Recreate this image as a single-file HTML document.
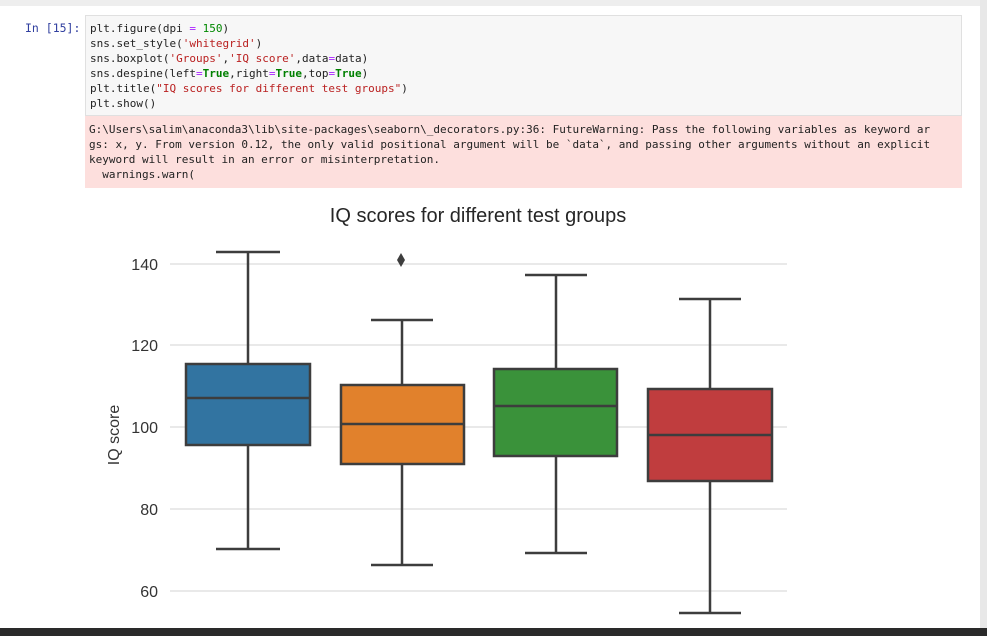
<!DOCTYPE html>
<html><head><style>
body{margin:0;width:987px;height:636px;background:#fff;overflow:hidden;position:relative;font-family:"DejaVu Sans Mono","Liberation Mono",monospace}
.top{position:absolute;left:0;top:0;width:980px;height:6px;background:#eee}
.prompt{position:absolute;left:25px;top:21px;font-size:11.5px;color:#303f9f}
.code{position:absolute;left:85px;top:15px;width:877px;height:101px;background:#f7f7f7;border:1px solid #e0e0e0;box-sizing:border-box}
.code pre,.err pre{margin:0;font-family:inherit;font-size:11px;line-height:15px}
.code pre{padding:5px 0 0 4px;color:#222}
.err{position:absolute;left:85px;top:116px;width:877px;height:72px;background:#fddfdd}
.err pre{padding:6px 0 0 4px;line-height:15px;font-size:11px;color:#222}
.s{color:#ba2121}.k{color:#008000;font-weight:bold}.o{color:#aa22ff}.n{color:#080}
.sb{position:absolute;left:980px;top:0;width:7px;height:628px;background:#e8e8e8}
.bot{position:absolute;left:0;top:628px;width:987px;height:8px;background:#2a2a2a}
</style></head><body>
<div class="top"></div>
<div class="prompt">In [15]:</div>
<div class="code"><pre>plt.figure(dpi <span class="o">=</span> <span class="n">150</span>)
sns.set_style(<span class="s">'whitegrid'</span>)
sns.boxplot(<span class="s">'Groups'</span>,<span class="s">'IQ score'</span>,data<span class="o">=</span>data)
sns.despine(left<span class="o">=</span><span class="k">True</span>,right<span class="o">=</span><span class="k">True</span>,top<span class="o">=</span><span class="k">True</span>)
plt.title(<span class="s">"IQ scores for different test groups"</span>)
plt.show()</pre></div>
<div class="err"><pre>G:\Users\salim\anaconda3\lib\site-packages\seaborn\_decorators.py:36: FutureWarning: Pass the following variables as keyword ar
gs: x, y. From version 0.12, the only valid positional argument will be `data`, and passing other arguments without an explicit
keyword will result in an error or misinterpretation.
  warnings.warn(</pre></div>
<svg style="position:absolute;left:0;top:0" width="987" height="636" font-family="Liberation Sans, sans-serif">
<text x="478" y="222" font-size="20" text-anchor="middle" fill="#262626">IQ scores for different test groups</text>
<g stroke="#dcdcdc" stroke-width="1.3">
<line x1="170" x2="787" y1="264" y2="264"/><line x1="170" x2="787" y1="345" y2="345"/><line x1="170" x2="787" y1="427" y2="427"/><line x1="170" x2="787" y1="509" y2="509"/><line x1="170" x2="787" y1="591" y2="591"/></g>
<g font-size="16" fill="#333" text-anchor="end">
<text x="158" y="270">140</text><text x="158" y="351">120</text><text x="158" y="433">100</text><text x="158" y="515">80</text><text x="158" y="597">60</text></g>
<text transform="translate(119,435) rotate(-90)" font-size="16" fill="#333" text-anchor="middle">IQ score</text>
<g stroke="#3d3d3d" stroke-width="2.5">
<line x1="248" x2="248" y1="252" y2="549"/><line x1="216" x2="280" y1="252" y2="252"/><line x1="216" x2="280" y1="549" y2="549"/>
<rect x="186" y="364" width="124" height="81" fill="#3274a1"/><line x1="186" x2="310" y1="398" y2="398"/>
<line x1="402" x2="402" y1="320" y2="565"/><line x1="371" x2="433" y1="320" y2="320"/><line x1="371" x2="433" y1="565" y2="565"/>
<rect x="341" y="385" width="123" height="79" fill="#e1812c"/><line x1="341" x2="464" y1="424" y2="424"/>
<line x1="556" x2="556" y1="275" y2="553"/><line x1="525" x2="587" y1="275" y2="275"/><line x1="525" x2="587" y1="553" y2="553"/>
<rect x="494" y="369" width="123" height="87" fill="#3a923a"/><line x1="494" x2="617" y1="406" y2="406"/>
<line x1="710" x2="710" y1="299" y2="613"/><line x1="679" x2="741" y1="299" y2="299"/><line x1="679" x2="741" y1="613" y2="613"/>
<rect x="648" y="389" width="124" height="92" fill="#c03d3e"/><line x1="648" x2="772" y1="435" y2="435"/>
</g>
<polygon points="401,253 405,260 401,267 397,260" fill="#3d3d3d"/>
</svg>
<div class="sb"></div>
<div class="bot"></div>
</body></html>
